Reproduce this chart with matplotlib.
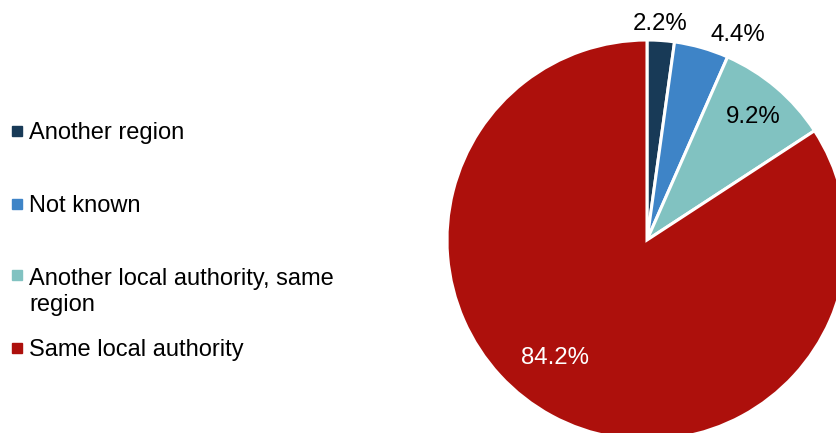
import numpy as np
import matplotlib.pyplot as plt

plt.rcParams.update(
    {
        "font.family": ["Liberation Sans", "DejaVu Sans"],
        "font.size": 17,
    }
)

categories = [
    "Another region",
    "Not known",
    "Another local authority, same\nregion",
    "Same local authority",
]
shares = [2.2, 4.4, 9.2, 84.2]
colors = ["#183a57", "#3e84c7", "#81c2c1", "#ad100c"]

# label placement per wedge: radius (in pie radii) and angle nudge (degrees)
label_radius = [1.08, 1.12, 0.81, 0.75]
label_nudge = [0.5, -8.0, -0.5, -9.5]
label_color = ["black", "black", "black", "white"]

W, H = 837, 433
fig = plt.figure(figsize=(W / 100, H / 100), dpi=100)

# pie axes: centre at (647, 240) px, radius 200 px; runs past the right/bottom edge
cx, cy, r = 647, 240, 200
ax = fig.add_axes([(cx - r) / W, (H - cy - r) / H, 2 * r / W, 2 * r / H])
wedges, _ = ax.pie(
    shares,
    colors=colors,
    startangle=90,
    counterclock=False,
    radius=1,
    wedgeprops={"edgecolor": "white", "linewidth": 2.2},
)
ax.set_xlim(-1, 1)
ax.set_ylim(-1, 1)
ax.set_aspect("equal")
ax.axis("off")

for w, val, rad, nudge, col in zip(wedges, shares, label_radius, label_nudge, label_color):
    mid = np.deg2rad((w.theta1 + w.theta2) / 2 + nudge)
    ax.text(
        rad * np.cos(mid),
        rad * np.sin(mid),
        f"{val:.1f}%",
        ha="center",
        va="center",
        color=col,
        fontsize=17.3,
        clip_on=False,
    )

# legend drawn in pixel coordinates on an overlay axes
lg = fig.add_axes([0, 0, 1, 1])
lg.set_xlim(0, W)
lg.set_ylim(H, 0)
lg.axis("off")
legend_y = [133, 206, 292, 350]
marker_y = [131, 204, 275, 348]
for name, col, ty, my in zip(categories, colors, legend_y, marker_y):
    lg.plot(17, my, marker="s", markersize=6.5, color=col, ls="")
    lg.text(29, ty, name, ha="left", va="center", fontsize=17, linespacing=1.25)

fig.savefig("out.png", dpi=100)
